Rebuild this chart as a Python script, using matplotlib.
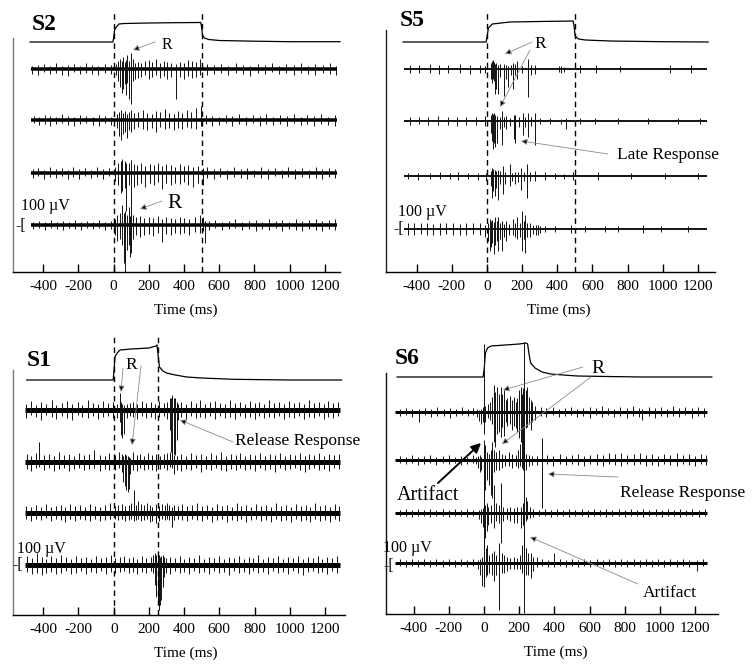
import matplotlib
matplotlib.use("Agg")
import matplotlib.pyplot as plt
from matplotlib.patches import FancyArrowPatch

plt.rcParams['font.family'] = ['Liberation Serif', 'DejaVu Serif']
plt.rcParams['axes.unicode_minus'] = False

W, H = 756, 672

# ---------------- data ----------------
xticks = [-400, -200, 0, 200, 400, 600, 800, 1000, 1200]

# force traces: time (ms), level above rest (px)
s2_force_t = [-475, -5, 0, 5, 15, 30, 60, 200, 350, 495, 500, 505, 515, 540, 600, 800, 1000, 1286]
s2_force_f = [0, 0, 4, 12, 15, 18, 18.5, 19, 19.3, 19.5, 14, 7, 4, 2.5, 1.5, 0.8, 0.3, 0.3]
s5_force_t = [-478, -5, 0, 8, 30, 130, 300, 490, 495, 502, 520, 560, 700, 1000, 1259]
s5_force_f = [0, 0, 5, 14, 18, 20, 20.5, 21, 17, 6, 3, 2, 1, 0.3, 0]
s1_force_t = [-494, -3, 2, 7, 20, 36, 100, 200, 240, 246, 252, 260, 280, 300, 350, 415, 500, 680, 1000, 1295]
s1_force_f = [0, 0, 10, 23, 27, 30, 31, 32, 34, 35, 25, 13, 9, 7, 5, 3, 2, 0.7, 0, 0]
s6_force_t = [-494, -5, 2, 8, 20, 40, 120, 200, 240, 248, 255, 265, 290, 330, 380, 450, 530, 700, 900, 1295]
s6_force_f = [0, 0, 10, 24, 29, 31, 32, 33, 34, 33, 24, 14, 9, 5, 3, 2, 1, 0.5, 0, 0]

# EMG spikes: (time ms, up px, down px)
s2_emg1 = [(-462,3,5),(-430,4,6),(-398,5,3),(-362,3,5),(-330,6,4),(-296,3,6),(-262,4,7),(-228,5,3),(-190,3,5),
           (-158,6,4),(-122,4,5),(-88,3,6),(-52,5,4),(-18,4,5),
           (12,5,6),(25,8,12),(35,10,18),(45,8,24),(55,12,20),(62,7,15),(70,9,26),(78,14,14),(88,8,30),(98,16,35),
           (108,10,12),(120,6,10),(140,7,9),(158,6,8),(178,8,6),(198,9,10),(218,7,8),(238,10,6),(262,6,9),(284,8,7),
           (305,7,10),(328,6,8),(355,5,30),(378,7,8),(400,6,10),(422,9,7),(445,8,9),(468,7,8),(490,10,6),
           (530,5,6),(572,4,5),(610,5,4),(652,3,6),(694,6,4),(735,4,5),(776,3,7),(818,5,4),(858,4,5),(900,6,3),
           (940,3,5),(982,5,4),(1022,4,6),(1064,6,4),(1104,3,5),(1146,5,6),(1188,4,4),(1228,6,5),(1262,3,6)]
s2_emg2 = [(-455,4,3),(-425,3,5),(-392,5,4),(-360,4,6),(-325,3,4),(-292,6,3),(-258,4,5),(-224,3,6),(-190,5,4),
           (-156,4,3),(-120,3,5),(-86,5,6),(-50,4,3),(-15,3,5),
           (20,6,8),(32,8,16),(42,10,20),(52,7,14),(62,9,12),(75,6,18),(88,8,10),(100,10,12),(115,7,9),(140,8,7),
           (165,10,9),(190,7,10),(215,6,8),(240,9,12),(265,8,7),(290,11,9),(315,7,8),(340,6,10),(365,9,8),(390,7,9),
           (415,10,7),(440,8,8),(465,12,9),(497,14,6),
           (525,5,4),(560,4,6),(598,3,5),(636,5,3),(675,4,6),(712,6,4),(750,3,5),(790,5,3),(830,4,6),(868,6,4),
           (906,3,5),(946,5,4),(985,4,6),(1024,6,3),(1062,3,5),(1100,5,4),(1140,4,6),(1180,6,4),(1220,3,5),(1258,5,6)]
s2_emg3 = [(-460,4,5),(-428,5,3),(-395,3,6),(-362,6,4),(-328,4,5),(-295,5,3),(-262,3,6),(-230,6,4),(-196,4,6),
           (-162,5,3),(-128,3,5),(-94,6,4),(-60,4,6),(-26,5,3),
           (10,6,8),(25,10,12),(40,12,20),(50,14,18),(62,12,15),(72,10,38),(85,10,12),(100,13,80),(115,9,14),
           (135,8,12),(158,10,10),(180,7,14),(205,9,10),(228,8,12),(250,10,9),(275,7,16),(300,9,10),(325,8,12),
           (350,6,10),(378,9,11),(400,7,9),(425,8,12),(450,6,14),(478,7,10),(505,5,12),
           (530,6,5),(568,4,6),(606,5,4),(645,3,6),(684,6,4),(722,4,5),(760,5,6),(800,3,4),(838,6,5),(876,4,6),
           (915,5,3),(954,3,5),(992,6,4),(1030,4,6),(1070,5,4),(1108,3,5),(1148,6,5),(1186,4,6),(1225,5,4),(1260,4,5)]
s2_emg4 = [(-458,3,4),(-424,4,3),(-390,3,5),(-356,5,3),(-322,3,4),(-288,4,5),(-254,3,3),(-220,5,4),(-186,3,5),
           (-152,4,3),(-118,3,4),(-84,5,3),(-50,3,5),(-18,4,4),
           (0,3,6),(8,6,10),(20,10,16),(35,12,14),(50,20,20),(58,12,38),(65,14,47),(75,10,25),(85,18,20),(95,9,32),
           (108,10,14),(125,8,10),(150,9,12),(175,7,10),(200,8,9),(225,7,11),(250,9,8),(272,6,17),(300,8,9),
           (325,7,10),(350,6,8),(375,8,9),(400,7,8),(430,6,10),(460,8,7),(490,10,8),(505,8,6),(519,4,18),
           (540,4,5),(578,5,3),(616,3,5),(654,4,4),(692,6,3),(730,3,5),(768,4,4),(806,5,6),(844,3,4),(882,6,5),
           (920,4,3),(958,5,6),(996,3,4),(1034,6,5),(1072,4,6),(1110,5,4),(1148,6,5),(1186,4,6),(1224,5,4),(1260,6,5)]

s5_emg1 = [(-441,4,4),(-389,4,4),(-327,5,4),(-275,4,5),(-222,4,4),(-156,5,4),(-99,4,5),(-42,4,4),(-10,3,4),
           (22,6,10),(28,8,14),(34,9,10),(40,7,12),(46,5,25),(53,6,20),(62,4,25),(75,5,8),(97,5,27),(108,4,10),
           (120,3,18),(135,4,6),(148,6,20),(160,5,6),(172,8,10),(200,3,4),(233,10,28),(250,4,6),(271,4,5),
           (410,3,3),(423,3,4),(436,2,3),(527,4,4),(622,4,4),(755,3,3),(1040,4,4),(1163,4,4)]
s5_emg2 = [(-441,4,4),(-389,4,3),(-336,4,4),(-279,5,4),(-222,4,4),(-169,4,5),(-118,4,4),(-61,4,4),(-10,5,5),
           (21,6,12),(27,8,20),(33,7,28),(40,8,22),(47,6,26),(59,5,22),(72,4,8),(85,10,24),(98,4,6),(110,5,8),
           (130,3,5),(152,6,18),(157,6,22),(162,5,15),(185,4,6),(205,8,14),(218,4,6),(233,8,16),(250,4,5),
           (271,8,24),(300,3,3),(357,3,3),(420,2,3),(452,3,8),(530,3,3),(613,3,3),(746,3,3),(917,3,3),
           (1087,3,3),(1211,3,3)]
s5_emg3 = [(-450,3,3),(-393,3,4),(-327,3,3),(-270,4,3),(-213,3,3),(-165,4,4),(-108,3,3),(-52,3,4),(-8,3,5),
           (20,5,10),(28,8,22),(36,7,15),(44,6,20),(53,5,12),(62,6,24),(75,5,8),(91,10,18),(105,4,8),(129,12,10),
           (140,3,5),(157,4,8),(175,4,6),(191,8,14),(210,4,5),(229,12,22),(245,4,5),(271,5,5),(328,4,4),
           (385,3,3),(440,2,3),(489,4,4),(632,4,4),(822,3,3),(1011,3,3),(1201,3,3)]
s5_emg4 = [(-450,6,6),(-416,6,6),(-378,6,5),(-340,6,6),(-308,5,6),(-270,6,6),(-232,6,5),(-194,6,6),(-156,5,6),
           (-118,6,6),(-80,6,5),(-42,6,6),(-10,4,8),
           (8,6,12),(15,10,22),(22,8,18),(30,9,14),(40,7,25),(48,12,16),(56,8,12),(62,12,22),(72,6,10),(85,8,22),
           (98,5,8),(110,8,12),(128,5,6),(148,10,6),(160,6,8),(172,12,10),(186,6,8),(199,18,22),(208,8,10),
           (218,14,24),(230,6,8),(243,6,8),(262,4,5),(278,4,6),(290,4,6),(300,3,4),(328,3,3),(385,3,3),
           (480,4,4),(556,3,3),(670,3,3),(746,3,3),(888,4,4),(992,3,3),(1144,3,3)]

s1_emg1 = [(-498,6,8),(-470,9,5),(-440,5,7),(-412,8,10),(-385,6,5),(-352,10,7),(-325,5,9),(-296,7,6),(-265,9,8),
           (-238,6,10),(-205,8,5),(-178,5,7),(-148,10,8),(-120,7,6),(-90,6,9),(-62,9,7),(-30,7,6),(-5,8,8),
           (20,6,8),(36,17,12),(42,8,25),(49,6,28),(56,5,24),(74,6,8),(90,7,6),(110,8,7),(135,6,9),
           (160,9,6),(185,7,8),(210,8,7),(235,6,9),(260,9,7),(285,7,6),(305,8,9),
           (318,12,20),(326,12,42),(333,15,47),(341,12,44),(349,12,45),(357,8,30),(365,6,10),
           (385,8,7),(410,6,9),(438,9,6),(465,7,8),(492,10,7),(520,6,8),(548,8,6),(575,9,9),(604,7,6),(632,6,8),
           (660,10,7),(688,7,9),(716,8,6),(744,6,8),(772,9,7),(800,7,9),(828,8,6),(856,6,8),(884,10,7),(912,7,8),
           (940,8,6),(968,6,9),(996,9,7),(1024,7,8),(1052,8,6),(1080,6,9),(1108,10,7),(1136,7,8),(1164,8,6),
           (1192,6,9),(1220,9,7),(1248,7,8),(1276,8,6)]
s1_emg2 = [(-495,8,7),(-468,6,9),(-440,9,6),(-422,20,5),(-395,7,8),(-366,8,6),(-338,6,9),(-310,10,7),(-282,7,6),
           (-252,8,9),(-224,6,7),(-195,9,6),(-166,7,8),(-138,8,7),(-110,12,6),(-80,7,9),(-52,6,7),(-24,9,8),
           (10,7,8),(30,10,6),(45,8,10),(55,6,20),(63,8,24),(71,7,28),(79,6,30),(87,5,27),(95,4,12),(112,10,8),
           (130,7,9),(150,8,6),(172,6,8),(195,9,7),(218,7,8),(240,8,9),(262,6,7),(285,8,6),(305,9,8),(320,10,5),
           (330,8,6),(345,7,12),(362,6,8),
           (385,8,9),(412,6,7),(440,9,8),(468,7,6),(496,8,10),(524,6,7),(552,9,8),(580,7,6),(608,10,8),(636,6,9),
           (664,8,7),(692,7,8),(720,9,6),(748,6,8),(776,8,7),(804,7,9),(832,9,6),(860,6,8),(888,8,7),(916,7,10),
           (944,9,6),(972,6,8),(1000,8,7),(1028,7,6),(1056,9,8),(1084,6,10),(1112,8,7),(1140,7,6),(1168,9,8),
           (1196,6,7),(1224,8,9),(1252,7,6),(1280,8,7)]
s1_emg3 = [(-498,7,6),(-470,6,8),(-442,8,6),(-414,6,7),(-386,9,5),(-358,6,8),(-330,7,6),(-302,8,7),(-274,6,9),
           (-246,9,6),(-218,7,8),(-190,8,6),(-162,6,7),(-134,9,8),(-106,7,6),(-78,6,8),(-50,8,7),(-22,10,6),
           (5,7,6),(25,8,7),(45,9,6),(65,7,8),(85,8,7),(100,10,6),(116,23,8),(128,8,7),(140,12,6),(155,9,8),
           (170,8,7),(188,10,6),(205,8,9),(220,6,8),(240,9,10),(258,7,8),(275,9,6),(290,8,7),(301,10,6),(315,8,7),
           (330,6,14),(345,8,7),(365,7,6),
           (390,9,7),(418,7,8),(446,8,6),(474,10,7),(502,7,8),(530,8,6),(558,6,9),(586,9,7),(614,7,6),(642,8,9),
           (670,6,7),(698,10,8),(726,7,6),(754,8,9),(782,6,7),(810,9,6),(838,7,8),(866,8,7),(894,6,9),(922,10,6),
           (950,7,8),(978,8,7),(1006,6,9),(1034,9,6),(1062,7,8),(1090,8,7),(1118,6,9),(1146,10,6),(1174,7,8),
           (1202,8,7),(1230,6,9),(1258,9,6),(1282,7,8)]
s1_emg4 = [(-495,9,7),(-466,7,9),(-438,12,8),(-410,8,10),(-382,6,8),(-354,9,7),(-326,7,9),(-298,10,8),(-270,8,6),
           (-242,6,9),(-214,9,8),(-186,7,6),(-158,8,9),(-130,6,7),(-102,9,8),(-74,7,6),(-46,8,9),(-18,10,7),
           (10,7,8),(35,8,7),(60,9,6),(85,7,8),(110,8,7),(135,6,9),(160,9,7),(185,7,8),(210,8,6),(225,10,8),
           (235,12,20),(243,10,32),(250,14,38),(257,10,45),(264,8,40),(271,9,35),(279,10,22),(288,8,12),
           (298,7,8),
           (318,8,9),(346,7,6),(374,9,8),(402,6,7),(430,8,9),(458,7,6),(486,10,8),(514,6,7),(542,8,9),(570,7,6),
           (598,9,8),(626,6,7),(654,8,10),(682,7,6),(710,9,8),(738,6,7),(766,8,9),(794,7,6),(822,10,8),(850,6,7),
           (878,8,9),(906,7,6),(934,9,8),(962,6,7),(990,8,9),(1018,7,6),(1046,9,8),(1074,6,10),(1102,8,7),
           (1130,7,6),(1158,9,8),(1186,6,7),(1214,8,9),(1242,7,6),(1270,9,8)]

s6_emg1 = [(-480,3,4),(-445,4,3),(-410,3,5),(-369,3,10),(-335,4,3),(-300,3,5),(-265,5,4),(-230,3,4),(-195,4,6),
           (-160,3,4),(-125,5,3),(-90,3,4),(-60,4,3),
           (-40,3,5),(-28,2,9),(-18,3,12),(-8,5,10),(0,68,22),(8,6,10),(20,8,6),(35,10,8),(48,15,12),(57,27,30),
           (64,20,35),(72,25,22),(85,18,20),(95,25,25),(105,18,15),(114,22,24),(125,12,10),(133,14,14),(145,16,12),
           (158,12,18),(170,15,14),(182,10,16),(190,14,20),(199,22,26),(208,25,30),(215,18,35),(222,24,28),
           (227,20,22),(240,22,16),(246,25,15),(255,15,12),(265,12,18),(275,10,10),(290,6,8),
           (322,5,4),(355,4,5),(390,5,3),(425,3,5),(460,4,4),(495,5,3),(530,3,5),(565,4,4),(600,5,6),(635,4,3),
           (670,6,5),(705,4,3),(740,3,5),(775,5,4),(810,4,6),(845,6,4),(880,4,5),(900,3,8),(935,5,4),(970,4,6),
           (1005,5,4),(1040,3,5),(1075,6,4),(1110,4,5),(1145,5,3),(1180,4,6),(1215,5,4),(1250,4,5)]
s6_emg2 = [(-480,4,3),(-445,3,4),(-410,5,3),(-375,3,5),(-340,4,4),(-305,5,3),(-270,3,5),(-235,4,3),(-200,5,4),
           (-165,3,3),(-130,4,5),(-95,3,4),(-60,5,3),
           (-45,3,4),(-35,4,8),(-25,5,12),(-15,3,10),(0,20,127),(8,15,30),(18,8,20),(28,6,25),(38,10,35),(46,18,38),
           (57,10,12),(70,8,10),(85,10,10),(100,6,8),(120,5,6),(140,8,6),(160,6,8),(180,5,6),(195,10,8),(205,16,6),
           (215,24,8),(222,30,10),(228,20,12),(238,6,10),(255,5,6),(275,4,5),(300,4,5),(332,22,48),
           (360,5,4),(395,4,6),(430,6,4),(465,4,5),(500,5,4),(535,6,5),(570,4,6),(605,5,4),(640,6,5),(675,5,6),
           (710,7,4),(745,6,5),(780,7,6),(815,5,4),(850,6,5),(885,7,4),(920,5,6),(955,6,5),(990,4,6),(1025,6,4),
           (1060,5,5),(1095,7,6),(1130,5,4),(1165,6,5),(1200,4,6),(1235,6,4),(1262,5,5)]
s6_emg3 = [(-480,3,3),(-445,4,3),(-410,3,4),(-375,4,3),(-340,3,3),(-305,4,4),(-270,3,3),(-235,4,3),(-200,3,4),
           (-165,4,3),(-130,3,3),(-95,4,4),(-60,3,3),
           (-30,3,6),(-15,4,10),(-5,5,14),(5,8,25),(15,10,18),(25,6,12),(40,8,10),(57,28,15),(70,10,8),(85,8,10),
           (99,30,30),(110,6,8),(130,5,6),(150,6,8),(171,5,10),(190,6,10),(208,6,15),(220,10,12),(227,171,100),
           (237,16,8),(245,12,6),(260,6,5),(280,4,4),
           (310,3,3),(345,4,3),(380,3,4),(415,4,3),(450,3,3),(485,4,4),(520,3,3),(555,4,3),(590,3,4),(625,4,3),
           (660,3,3),(695,4,4),(730,3,3),(765,4,3),(800,3,4),(835,4,3),(870,3,3),(905,4,4),(940,3,3),(975,4,3),
           (1010,3,4),(1045,4,3),(1080,3,3),(1115,4,4),(1150,3,3),(1185,4,3),(1220,3,4),(1255,4,3)]
s6_emg4 = [(-480,4,3),(-445,3,4),(-410,4,3),(-375,3,4),(-340,4,3),(-305,3,4),(-270,4,3),(-235,3,4),(-200,4,3),
           (-165,3,4),(-130,4,3),(-95,3,4),(-60,4,3),
           (-35,3,6),(-20,4,12),(-9,6,23),(0,10,20),(10,15,14),(19,18,12),(30,8,10),(45,10,12),(57,12,18),(70,8,12),
           (85,20,47),(100,10,10),(114,8,10),(130,6,8),(150,5,6),(170,6,6),(190,5,6),(205,8,6),(218,18,10),
           (227,25,20),(237,15,12),(250,10,12),(265,10,15),(280,6,8),(303,6,4),
           (330,4,3),(365,3,4),(398,10,4),(430,4,3),(465,3,4),(500,4,3),(535,3,4),(570,4,3),(605,3,4),(640,4,3),
           (675,3,4),(710,4,3),(745,3,4),(780,4,3),(815,3,4),(850,4,3),(885,3,4),(920,4,3),(955,3,4),(990,4,3),
           (1025,3,4),(1060,4,3),(1095,3,4),(1130,4,3),(1165,3,4),(1212,3,8),(1245,4,3)]

# recording span of the EMG traces (ms)
s2_span = [-470, 1267]
s5_span = [-470, 1250]
s1_span = [-504, 1286]
s6_span = [-507, 1269]

# stimulus on/off markers (ms)
s2_marks = [0, 500]
s5_marks = [0, 500]
s1_marks = [0, 250]
s6_marks = []

# ---------------- layout ----------------
panels = [
    dict(name='S2', box=(13, 5, 340, 272), xlim=(-572, 1286), spine='#7a7a7a', spine_top=234,
         force=(s2_force_t, s2_force_f), fbase=230, emg=[s2_emg1, s2_emg2, s2_emg3, s2_emg4],
         bases=[203, 152, 99, 47], span=s2_span, band=3.5, marks=s2_marks, mark_top=259),
    dict(name='S5', box=(386, 5, 715, 272), xlim=(-575, 1298), spine='#222222', spine_top=242,
         force=(s5_force_t, s5_force_f), fbase=230, emg=[s5_emg1, s5_emg2, s5_emg3, s5_emg4],
         bases=[203, 151, 96, 43], span=s5_span, band=1.8, marks=s5_marks, mark_top=259),
    dict(name='S1', box=(13, 330, 345, 615), xlim=(-572, 1314), spine='#7a7a7a', spine_top=245,
         force=(s1_force_t, s1_force_f), fbase=235, emg=[s1_emg1, s1_emg2, s1_emg3, s1_emg4],
         bases=[205, 153, 102, 50], span=s1_span, band=5.0, marks=s1_marks, mark_top=280),
    dict(name='S6', box=(386, 330, 718, 614), xlim=(-557, 1330), spine='#111111', spine_top=241,
         force=(s6_force_t, s6_force_f), fbase=237, emg=[s6_emg1, s6_emg2, s6_emg3, s6_emg4],
         bases=[202, 154, 101, 51], span=s6_span, band=3.0, marks=s6_marks, mark_top=280),
]

fig = plt.figure(figsize=(W / 100, H / 100), dpi=100)


def fpos(x, y):
    return (x / W, 1 - y / H)


for p in panels:
    l, t, r, b = p['box']
    ax = fig.add_axes([l / W, 1 - b / H, (r - l) / W, (b - t) / H])
    ax.set_xlim(*p['xlim'])
    ax.set_ylim(0, b - t)
    ax.patch.set_visible(False)
    ax.spines['top'].set_visible(False)
    ax.spines['right'].set_visible(False)
    ax.spines['left'].set_bounds(0, p['spine_top'])
    ax.spines['left'].set_color(p['spine'])
    ax.spines['left'].set_linewidth(1.0)
    ax.spines['bottom'].set_linewidth(1.0)
    ax.set_yticks([])
    ax.set_xticks(xticks)
    ax.tick_params(axis='x', direction='in', length=6, width=1, pad=6, labelsize=11)

    ft, ff = p['force']
    ax.plot(ft, [p['fbase'] + v for v in ff], color='k', lw=0.9, clip_on=False)

    for trace, base in zip(p['emg'], p['bases']):
        ax.plot(p['span'], [base, base], color='k', lw=p['band'] * 0.72, solid_capstyle='butt')
        tt = [s[0] for s in trace]
        ax.vlines(tt, [base - s[2] for s in trace], [base + s[1] for s in trace],
                  color='#111111', lw=0.7, clip_on=False)

    if p['marks']:
        ax.vlines(p['marks'], 0, p['mark_top'], colors='k', lw=1.0,
                  linestyles=(0, (4, 3)), zorder=3)

    # x label, placed in px below the axis line
    ax.text(410, -38 / (b - t), 'Time (ms)', transform=ax.get_xaxis_transform(),
            ha='center', va='center', fontsize=11)

# panel labels
for name, x, y in [('S2', 32, 24), ('S5', 400, 21), ('S1', 27, 361), ('S6', 395, 359)]:
    fig.text(*fpos(x, y), name, fontsize=17, fontweight='bold', ha='left', va='center')

# scale bars
for x, y in [(21, 206), (398, 212), (17, 549), (383, 548)]:
    fig.text(*fpos(x, y), '100 \u00b5V', fontsize=11.5, ha='left', va='center')
for x, y in [(15, 226), (393, 229), (12, 565), (383, 566)]:
    fig.text(*fpos(x, y), '-[', fontsize=11.5, ha='left', va='center')

# annotation texts
labels = [
    ('R', 167, 45, 11.5), ('R', 175, 204, 15.5),
    ('R', 540, 44, 12.5), ('Late Response', 668, 155, 12.5),
    ('R', 131, 365, 12.5), ('Release Response', 298, 441, 12.5),
    ('R', 598, 368, 14), ('Artifact', 428, 495, 14.5),
    ('Release Response', 683, 493, 12.5), ('Artifact', 670, 593, 12.5),
]
for s, x, y, fs in labels:
    fig.text(*fpos(x, y), s, fontsize=fs, ha='center', va='center')


def arrow(x0, y0, x1, y1, bold=False):
    if bold:
        a = FancyArrowPatch(fpos(x0, y0), fpos(x1, y1), transform=fig.transFigure,
                            arrowstyle='-|>', mutation_scale=14, lw=1.4, ec='k', fc='k',
                            shrinkA=0, shrinkB=0)
    else:
        a = FancyArrowPatch(fpos(x0, y0), fpos(x1, y1), transform=fig.transFigure,
                            arrowstyle='-|>', mutation_scale=9, lw=0.6, ec='#8a8a8a', fc='k',
                            shrinkA=0, shrinkB=0)
    fig.add_artist(a)


arrow(155, 42, 133, 50)
arrow(162, 201, 140, 209)
arrow(532, 42, 505, 54)
arrow(530, 50, 500, 107)
arrow(608, 154, 521, 141)
arrow(123, 368, 121, 392)
arrow(141, 366, 132, 445)
arrow(233, 442, 180, 420)
arrow(583, 367, 503, 390)
arrow(591, 377, 502, 444)
arrow(438, 483, 481, 443, bold=True)
arrow(618, 477, 548, 474)
arrow(638, 584, 530, 537)

fig.savefig('out.png', dpi=100)
